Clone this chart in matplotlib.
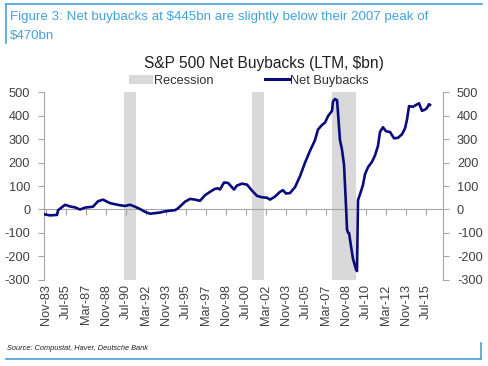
import numpy as np
import pandas as pd
import matplotlib
matplotlib.use('Agg')
import matplotlib.pyplot as plt
import matplotlib.dates as mdates
from matplotlib.patches import Patch
from matplotlib.lines import Line2D

plt.rcParams['font.family'] = ['Liberation Sans', 'DejaVu Sans']
plt.rcParams['axes.unicode_minus'] = False

# net buybacks, LTM, $bn
dates = ['1983-10', '1984-03', '1984-10', '1984-11', '1985-03', '1985-06', '1985-11',
         '1986-04', '1986-09', '1987-02', '1987-10', '1988-03', '1988-08', '1989-03',
         '1990-01', '1990-06', '1990-11', '1991-04', '1991-09', '1992-02', '1992-07',
         '1993-05', '1993-10', '1994-03', '1994-08', '1994-11', '1995-06', '1995-11',
         '1996-04', '1996-09', '1997-02', '1997-07', '1997-12', '1998-03', '1998-05',
         '1998-09', '1999-01', '1999-03', '1999-07', '1999-10', '2000-03', '2000-08',
         '2001-01', '2001-06', '2001-11', '2002-04', '2002-07', '2002-12', '2003-05',
         '2003-08', '2003-11', '2004-03', '2004-08', '2005-01', '2005-06', '2005-11',
         '2006-04', '2006-07', '2006-11', '2007-02', '2007-05', '2007-09', '2007-10',
         '2007-12', '2008-02', '2008-03', '2008-05', '2008-07', '2008-09', '2008-11',
         '2008-12', '2009-01', '2009-02', '2009-04', '2009-06', '2009-09', '2009-10',
         '2009-11', '2010-02', '2010-04', '2010-06', '2010-09', '2011-01', '2011-04',
         '2011-07', '2011-09', '2011-12', '2012-03', '2012-07', '2012-11', '2013-03',
         '2013-07', '2013-10', '2013-12', '2014-02', '2014-06', '2014-09', '2014-12',
         '2015-03', '2015-06', '2015-08', '2015-10', '2015-11']
buybacks = [-21, -25, -23, -3, 10, 20, 13,
            9, 0, 8, 12, 35, 42, 27,
            18, 15, 20, 12, 2, -10, -18,
            -13, -8, -5, -3, 5, 33, 45,
            42, 37, 61, 75, 88, 90, 85,
            115, 113, 104, 85, 102, 110, 106,
            80, 58, 52, 50, 42, 55, 75,
            82, 68, 70, 95, 142, 199, 250,
            295, 340, 360, 370, 397, 420, 460,
            470, 465, 413, 295, 255, 190, 14,
            -85, -99, -100, -156, -210, -255, -262,
            40, 78, 105, 150, 180, 203, 230,
            270, 330, 350, 333, 330, 303, 305,
            320, 345, 383, 440, 437, 445, 452,
            420, 425, 432, 448, 445]

rec_start = ['1990-05-01', '2001-01-01', '2007-09-10']
rec_end = ['1991-05-01', '2002-01-01', '2009-08-20']

tick_dates = pd.date_range('1983-11-01', periods=20, freq='20MS')

navy = '#0b0b7d'
grey_txt = '#404040'
spine_c = '#a6a6a6'
blue = '#45a2d9'

x = pd.to_datetime(dates)

fig = plt.figure(figsize=(4.88, 3.66), dpi=100)
ax = fig.add_axes([0.0902, 0.235, 0.8176, 0.5136])

for s, e in zip(rec_start, rec_end):
    ax.axvspan(pd.Timestamp(s), pd.Timestamp(e), color='#d9d9d9', lw=0, zorder=0)

ax.plot(x, buybacks, color=navy, lw=1.9, zorder=3)

ax.set_ylim(-300, 500)
ax.set_yticks(np.arange(-300, 501, 100))
ax.set_xlim(pd.Timestamp('1983-09-01'), pd.Timestamp('2016-12-01'))

ax.spines['top'].set_visible(False)
ax.spines['bottom'].set_visible(False)
for side in ['left', 'right']:
    ax.spines[side].set_color(spine_c)
    ax.spines[side].set_linewidth(0.8)

ax.tick_params(axis='y', left=True, right=True, labelleft=True, labelright=True,
               direction='out', length=4, width=0.8, color=spine_c,
               labelsize=9.2, labelcolor=grey_txt, pad=6)

ax.set_xticks(tick_dates)
ax.xaxis.set_major_formatter(mdates.DateFormatter('%b-%y'))
ax.tick_params(axis='x', length=0, labelsize=9.2, labelcolor=grey_txt,
               labelrotation=90, pad=3)

# zero line carrying the date tick marks
zero = ax.secondary_xaxis(0.375)
zero.set_xticks(tick_dates)
zero.tick_params(axis='x', direction='out', length=4, width=0.8, color=spine_c,
                 labelbottom=False, labeltop=False, bottom=True, top=False)
zero.spines['bottom'].set_color(spine_c)
zero.spines['bottom'].set_linewidth(0.8)
zero.spines['top'].set_visible(False)

fig.text(0.54, 0.827, 'S&P 500 Net Buybacks (LTM, $bn)', ha='center', va='center',
         fontsize=11.2, color='#202020')

handles = [Patch(facecolor='#d9d9d9', edgecolor='none'),
           Line2D([], [], color=navy, lw=2.2)]
fig.legend(handles, ['Recession', 'Net Buybacks'], loc='center',
           bbox_to_anchor=(0.51, 0.78), ncol=2, frameon=False, fontsize=9.2,
           handlelength=1.9, handleheight=0.7, handletextpad=0.1,
           columnspacing=4.0, labelcolor='#303030')

# header and footer
fig.text(0.02, 0.953, 'Figure 3: Net buybacks at $445bn are slightly below their 2007 peak of',
         fontsize=9.6, color=blue, va='center')
fig.text(0.02, 0.903, '$470bn', fontsize=9.6, color=blue, va='center')
fig.add_artist(Line2D([0.012, 0.988], [0.988, 0.988], color=blue, lw=1.2))
fig.add_artist(Line2D([0.013, 0.013], [0.988, 0.882], color=blue, lw=1.2))

fig.text(0.014, 0.049, 'Source: Compustat, Haver, Deutsche Bank', fontsize=5.3,
         style='italic', color='#202020', va='center')
fig.add_artist(Line2D([0.012, 0.986], [0.019, 0.019], color=blue, lw=1.2))
fig.add_artist(Line2D([0.985, 0.985], [0.019, 0.063], color=blue, lw=1.2))

fig.savefig('out.png', dpi=100)
